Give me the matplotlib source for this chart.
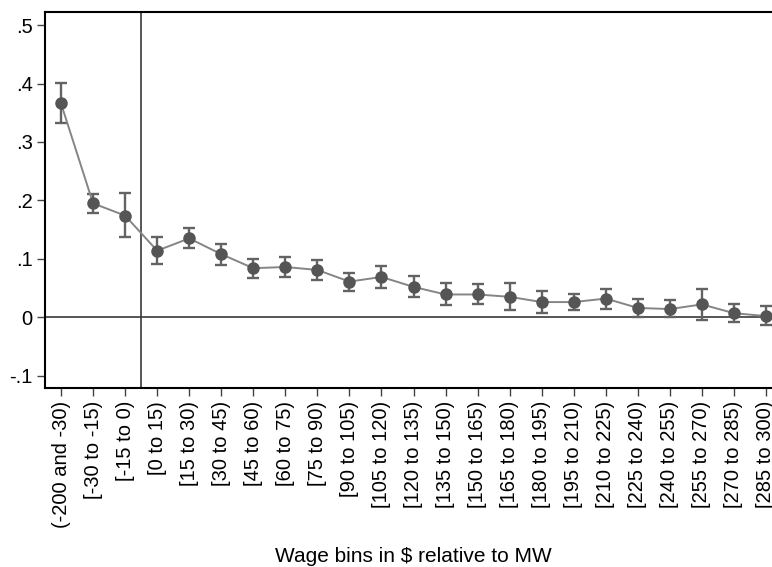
import numpy as np
import matplotlib.pyplot as plt

plt.rcParams['font.family'] = ['Liberation Sans', 'DejaVu Sans']

bins = ['(-200 and -30)', '[-30 to -15)', '[-15 to 0)', '[0 to 15)', '[15 to 30)',
        '[30 to 45)', '[45 to 60)', '[60 to 75)', '[75 to 90)', '[90 to 105)',
        '[105 to 120)', '[120 to 135)', '[135 to 150)', '[150 to 165)', '[165 to 180)',
        '[180 to 195)', '[195 to 210)', '[210 to 225)', '[225 to 240)', '[240 to 255)',
        '[255 to 270)', '[270 to 285)', '[285 to 300)']

coef = [0.366, 0.195, 0.174, 0.114, 0.135, 0.108, 0.084, 0.086, 0.081, 0.061,
        0.069, 0.052, 0.039, 0.039, 0.035, 0.026, 0.026, 0.032, 0.016, 0.014,
        0.022, 0.007, 0.002]
ci_hi = [0.401, 0.211, 0.212, 0.138, 0.153, 0.126, 0.100, 0.103, 0.098, 0.076,
         0.088, 0.071, 0.058, 0.057, 0.059, 0.045, 0.040, 0.049, 0.032, 0.029,
         0.048, 0.023, 0.019]
ci_lo = [0.333, 0.178, 0.137, 0.091, 0.118, 0.090, 0.068, 0.069, 0.063, 0.045,
         0.050, 0.034, 0.021, 0.023, 0.012, 0.008, 0.012, 0.014, 0.000, 0.000,
         -0.004, -0.008, -0.014]

x = np.arange(len(bins))
coef = np.array(coef)
yerr = np.array([coef - np.array(ci_lo), np.array(ci_hi) - coef])

fig = plt.figure(figsize=(7.72, 5.67), dpi=100)
# the plot area runs a little past the right edge, as in the original export
ax = fig.add_axes([45 / 772, 1 - 388.3 / 567, 737 / 772, 376 / 567])

ax.axhline(0, color='#3a3a3a', lw=1.2, zorder=1)
ax.axvline(2.5, color='#3a3a3a', lw=1.2, zorder=1)

ax.errorbar(x, coef, yerr=yerr, fmt='none', ecolor='#636363', elinewidth=1.7,
            capsize=4, capthick=1.7, zorder=2)
ax.plot(x, coef, color='#858585', lw=1.4, zorder=3)
ax.plot(x, coef, 'o', color='#555555', ms=8, zorder=4)

ax.set_xlim(-0.5, 22.5)
ax.set_ylim(-0.1216, 0.522)
ax.set_yticks([-0.1, 0, 0.1, 0.2, 0.3, 0.4, 0.5])
ax.set_yticklabels(['-.1', '0', '.1', '.2', '.3', '.4', '.5'], fontsize=14.5)
ax.set_xticks(x)
ax.set_xticklabels(bins, rotation=90, fontsize=14.5)
ax.tick_params(axis='both', length=6, width=1, color='#444444', pad=3)

for side in ['left', 'bottom', 'top']:
    ax.spines[side].set_linewidth(1.5)
ax.spines['right'].set_visible(False)

ax.set_xlabel('Wage bins in $ relative to MW', fontsize=15, va='baseline')
ax.xaxis.set_label_coords(0.5, (388.3 - 562) / 376)

fig.savefig('out.png', dpi=100)
